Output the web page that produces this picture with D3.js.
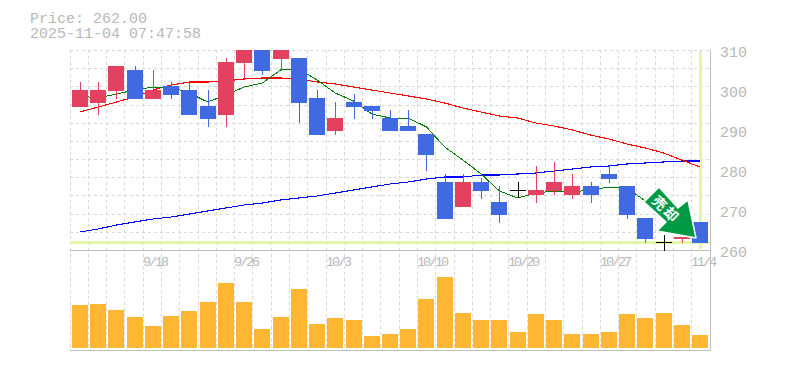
<!DOCTYPE html>
<html>
<head>
<meta charset="utf-8">
<script src="https://cdn.jsdelivr.net/npm/d3@7"></script>
<style>
    html, body { margin: 0; padding: 0; background: #fff; }
    svg { display: block; }
    text { font-family: "Liberation Mono", monospace; fill: #b8b8b8; }
</style>
</head>
<body>
<div id="chart"></div>
<script>
// Chart data
const dateLabels = {4:"9/18", 9:"9/26", 14:"10/3", 19:"10/10", 24:"10/20", 29:"10/27", 34:"11/4"}
const priceTicks = [260, 270, 280, 290, 300, 310]
const lastPrice = 262
const titleLines = ["Price: 262.00", "2025-11-04 07:47:58"]

const open  = [295.75,296.75,299.75,305,297.75,301,300,296,293.75,306.75,311,307.75,308,298,289.75,297,296,293,291,289,277,270.75,277,272,275,273.75,274.75,273.75,276,279,276,268,262,262.75,267]
const close = [300,300,306,297.75,300,298.75,293.75,292.75,307,311,304.75,311,296.75,288.75,293,295.75,294.75,289.75,289.75,283.75,267.75,277,274.75,268.75,275,275,277,276,273.75,277.75,268.75,262.75,262,263.25,261.75]
const high  = [302,302,306,306,305,302,302,300,308,312,312,312,308,300,297,299,296,295,295,289,279,279,278,276,277,281,282,279,277,281.25,276,268,263.75,263.25,267]
const low   = [295.75,293.75,297.75,297.75,297.75,297.75,293.75,290.75,290.75,302.75,303.75,304.75,291.75,288.75,288.75,292.75,292.75,289.75,289.75,279.75,267.75,270.75,272.75,266.75,273,271.75,273.75,272.75,271.75,276.75,267.75,261.75,259.75,261.75,261.75]

const maShort  = [298.5,298,299,300,300.75,300.75,299.25,297,298.75,300.75,301.75,305,305.25,302.5,299.25,297.25,294,293,293,290.75,285.75,282.5,279,274.75,273,274.25,274.75,274.5,275,275.75,275.5,272.25,268.5,265.5,263.5]
const maMiddle = [294.5,295.75,297,298.25,300,301.25,302,302,302.25,302.75,303,303,302.75,302,301.5,300.75,300,299.25,298.5,297.75,296.75,295.5,294.5,293.5,293,291.75,291,290,288.75,287.75,286.5,285.5,284.25,282.5,280.75]
const maLong   = [264.5,265.25,266.25,267,267.75,268.25,269,269.75,270.5,271.25,271.75,272.5,273,273.5,274.25,275,275.75,276.5,277,277.75,278.25,278.25,278.75,278.75,279,279.25,279.75,280.25,280.75,281,281.5,281.75,282,282.25,282.25]

const volume = [43,44,38,31,22,32,37,46,65,46,19,31,59,24,30,28,12,14,19,49,71,35,28,28,16,34,28,14,14,16,34,30,35,23,13]

function drawChart(container) {
    // Define chart parameters
    const WIDTH = 785
    const HEIGHT = 370
    const PLOT = {LEFT:70, RIGHT:710, TOP:50, BOTTOM:250, VOLTOP:250, VOLBOTTOM:350}
    const COLOUR = {UP:"#e2415f", DOWN:"#4169e1", GRID:"#d9d9d9", AXIS:"#c0c0c0", NOW:"#e4f5aa", VOL:"#ffb733", ARROW:"#009944"}
    const BODY = 16
    const days = d3.range(open.length)

    // Candles sit on a point scale, the grid on a band scale
    const x = d3.scalePoint().domain(days).range([80, 700])
    const xGrid = d3.scaleBand().domain(days).range([PLOT.LEFT, PLOT.RIGHT])
    const y = d3.scaleLinear().domain([260, 310]).range([PLOT.BOTTOM, PLOT.TOP])
    const yVol = d3.scaleLinear().domain([0, 100]).range([PLOT.VOLBOTTOM - 2, PLOT.VOLBOTTOM - 102])
    const cx = i => Math.round(x(i))

    let svg = d3.select(container).append("svg")
        .attr("width", WIDTH)
        .attr("height", HEIGHT)
        .attr("viewBox", `0 0 ${WIDTH} ${HEIGHT}`)

    svg.append("clipPath").attr("id", "price-clip")
        .append("rect")
        .attr("x", PLOT.LEFT).attr("y", PLOT.TOP)
        .attr("width", PLOT.RIGHT - PLOT.LEFT).attr("height", PLOT.BOTTOM - PLOT.TOP + 1)

    // Title lines
    svg.selectAll(".title")
        .data(titleLines)
        .enter()
        .append("text")
        .attr("class", "title")
        .attr("x", 30)
        .attr("y", (d, i) => 23 + i * 15)
        .attr("font-size", 15)
        .text(d => d)

    // Dashed grid
    const gridRows = d3.range(0, 12).map(i => PLOT.TOP + Math.round(i * 200 / 11))
    const grid = svg.append("g")
        .attr("stroke", COLOUR.GRID)
        .attr("stroke-dasharray", "3,3")
        .attr("shape-rendering", "crispEdges")
    grid.selectAll(".v")
        .data(days)
        .enter()
        .append("line")
        .attr("x1", d => Math.floor(xGrid(d)) + 0.5)
        .attr("x2", d => Math.floor(xGrid(d)) + 0.5)
        .attr("y1", PLOT.TOP)
        .attr("y2", PLOT.VOLBOTTOM)
    grid.selectAll(".h")
        .data(gridRows.slice(0, -1))
        .enter()
        .append("line")
        .attr("x1", PLOT.LEFT)
        .attr("x2", PLOT.RIGHT)
        .attr("y1", d => d + 0.5)
        .attr("y2", d => d + 0.5)

    // Current price and current time markers
    svg.append("rect")
        .attr("x", PLOT.LEFT).attr("y", y(lastPrice) - 1)
        .attr("width", PLOT.RIGHT - PLOT.LEFT).attr("height", 3)
        .attr("fill", COLOUR.NOW)
    svg.append("rect")
        .attr("x", cx(days.length - 1) - 1).attr("y", PLOT.TOP + 1)
        .attr("width", 3).attr("height", 198)
        .attr("fill", COLOUR.NOW)

    // Frame
    const frame = svg.append("g").attr("fill", COLOUR.AXIS).attr("shape-rendering", "crispEdges")
    frame.append("rect").attr("x", PLOT.LEFT).attr("y", PLOT.BOTTOM).attr("width", PLOT.RIGHT - PLOT.LEFT).attr("height", 1)
    frame.append("rect").attr("x", PLOT.LEFT).attr("y", PLOT.VOLBOTTOM).attr("width", PLOT.RIGHT - PLOT.LEFT + 1).attr("height", 1)
    frame.append("rect").attr("x", PLOT.RIGHT).attr("y", PLOT.TOP).attr("width", 1).attr("height", PLOT.VOLBOTTOM - PLOT.TOP)

    // Moving averages go behind the candles
    const price = svg.append("g").attr("clip-path", "url(#price-clip)")
    const line = d3.line().x((d, i) => x(i)).y(d => y(d))
    const averages = [
        {values: maLong,   colour: "#0000ff", width: 1.1},
        {values: maMiddle, colour: "#ff0000", width: 1.1},
        {values: maShort,  colour: "#008000", width: 1}
    ]
    price.selectAll(".ma")
        .data(averages)
        .enter()
        .append("path")
        .attr("class", "ma")
        .attr("d", d => line(d.values))
        .attr("fill", "none")
        .attr("stroke", d => d.colour)
        .attr("stroke-width", d => d.width)
        .attr("shape-rendering", "crispEdges")

    // Candles, a doji is a black cross
    const colourOf = i => close[i] > open[i] ? COLOUR.UP : close[i] < open[i] ? COLOUR.DOWN : "#000"
    const candles = price.selectAll(".candle")
        .data(days)
        .enter()
        .append("g")
        .attr("class", "candle")
        .attr("fill", colourOf)
        .attr("shape-rendering", "crispEdges")
    candles.append("rect")
        .attr("x", d => cx(d))
        .attr("y", d => y(high[d]))
        .attr("width", 1)
        .attr("height", d => y(low[d]) - y(high[d]))
    candles.append("rect")
        .attr("x", d => cx(d) - BODY / 2)
        .attr("y", d => y(Math.max(open[d], close[d])))
        .attr("width", BODY)
        .attr("height", d => Math.max(1, y(Math.min(open[d], close[d])) - y(Math.max(open[d], close[d]))))

    // Volume bars
    svg.selectAll(".vol")
        .data(days)
        .enter()
        .append("rect")
        .attr("class", "vol")
        .attr("x", d => cx(d) - BODY / 2)
        .attr("y", d => yVol(volume[d]))
        .attr("width", BODY)
        .attr("height", d => yVol(0) - yVol(volume[d]))
        .attr("fill", COLOUR.VOL)
        .attr("shape-rendering", "crispEdges")

    // Price axis on the right
    const yAxis = svg.append("g")
        .attr("transform", `translate(${PLOT.RIGHT},0)`)
        .call(d3.axisRight(y).tickValues(priceTicks).tickSize(0).tickPadding(10))
    yAxis.select(".domain").remove()
    yAxis.selectAll("text")
        .attr("font-family", null)
        .attr("font-size", 15)
        .attr("fill", null)
        .attr("dy", 6.5)

    // Date axis, labels start at the left of their day
    const xAxis = svg.append("g")
        .attr("transform", `translate(0,${PLOT.BOTTOM})`)
        .call(d3.axisBottom(xGrid).tickValues(Object.keys(dateLabels).map(Number)).tickSize(0).tickPadding(0).tickFormat(d => dateLabels[d]))
    xAxis.select(".domain").remove()
    xAxis.selectAll(".tick")
        .attr("transform", d => `translate(${Math.floor(xGrid(d))},0)`)
    xAxis.selectAll("text")
        .attr("font-family", null)
        .attr("font-size", 13.5)
        .attr("fill", null)
        .attr("text-anchor", "start")
        .attr("letter-spacing", -2.1)
        .attr("y", 16)
        .attr("dy", 0)

    // Sell signal arrow, hung off the last price
    const arrow = svg.append("g")
        .attr("transform", `translate(${x(days.length - 1) - 4},${y(lastPrice) - 4})`)
    arrow.append("polygon")
        .attr("points", "-37,-51 -18,-30 -8,-38 0,0 -39,-7 -30,-16 -52,-36")
        .attr("fill", COLOUR.ARROW)
        .attr("stroke", "#fff")
        .attr("stroke-width", 1.5)
        .attr("stroke-linejoin", "round")
    arrow.append("text")
        .attr("transform", "translate(-30,-28.5) rotate(45)")
        .attr("text-anchor", "middle")
        .attr("dy", "0.36em")
        .attr("font-size", 14)
        .attr("font-weight", "bold")
        .attr("letter-spacing", 2)
        .style("font-family", '"Noto Sans CJK JP"')
        .style("fill", "#fff")
        .text("売却")
}

drawChart("#chart")
</script>
</body>
</html>
